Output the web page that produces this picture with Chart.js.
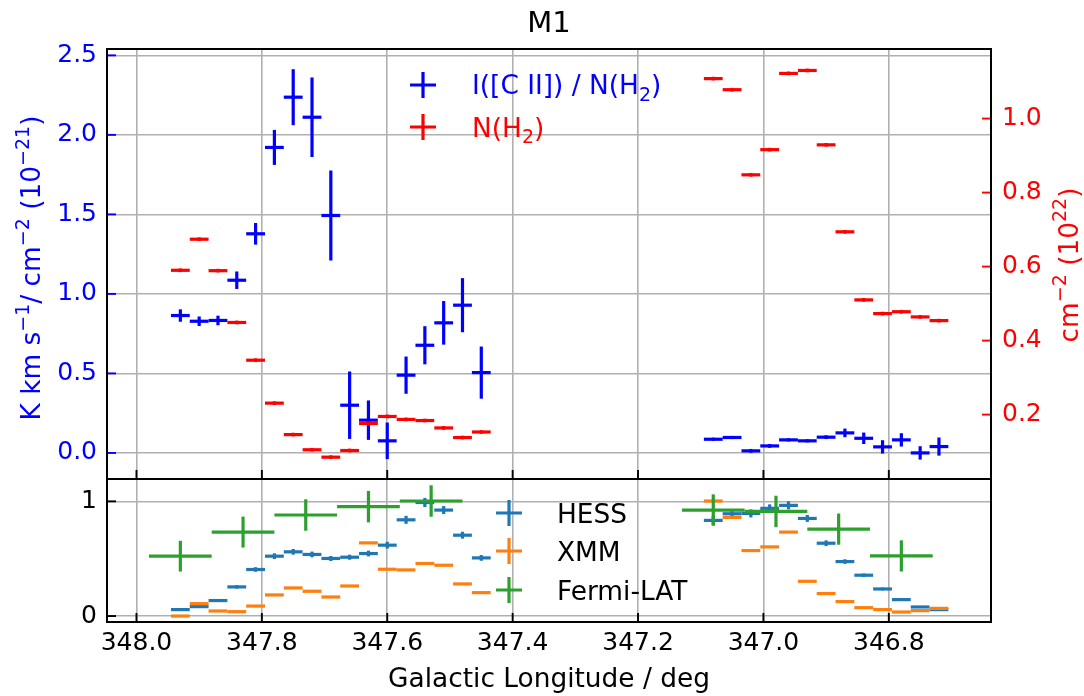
<!DOCTYPE html>
<html>
<head>
<meta charset="utf-8">
<script src="https://cdn.jsdelivr.net/npm/chart.js@4.4.0/dist/chart.umd.min.js"></script>
<style>
body{margin:0;background:#fff;}
#wrap{position:relative;width:1084px;height:696px;overflow:hidden;}
canvas{position:absolute;left:0;}
#top{top:0;}
#bot{top:470px;}
</style>
</head>
<body>
<div id="wrap">
<canvas id="top" width="1084" height="481"></canvas>
<canvas id="bot" width="1084" height="226"></canvas>
</div>
<script>
// longitude bins (deg), 0.03 deg wide
const binL = [347.93, 347.90, 347.87, 347.84, 347.81, 347.78, 347.75, 347.72, 347.69, 347.66, 347.63, 347.60, 347.57, 347.54, 347.51, 347.48, 347.45]
const binR = [347.08, 347.05, 347.02, 346.99, 346.96, 346.93, 346.90, 346.87, 346.84, 346.81, 346.78, 346.75, 346.72]
const lon = binL.concat(binR)
const binHalf = 0.015

// top panel
const ciiRatio = [0.864, 0.828, 0.833, 1.086, 1.378, 1.921, 2.237, 2.111, 1.493, 0.300, 0.206, 0.076, 0.489, 0.677, 0.818, 0.929, 0.505,
  0.086, 0.097, 0.013, 0.044, 0.082, 0.076, 0.099, 0.126, 0.092, 0.038, 0.082, 0.000, 0.040]
const ciiErr = [0.039, 0.03, 0.03, 0.055, 0.068, 0.11, 0.176, 0.25, 0.283, 0.212, 0.124, 0.115, 0.117, 0.12, 0.137, 0.17, 0.164,
  0.01, 0.01, 0.012, 0.012, 0.01, 0.01, 0.012, 0.027, 0.036, 0.042, 0.042, 0.042, 0.057]
const nH2 = [0.590, 0.674, 0.589, 0.449, 0.347, 0.231, 0.146, 0.105, 0.085, 0.103, 0.176, 0.195, 0.187, 0.184, 0.164, 0.138, 0.153,
  1.108, 1.078, 0.848, 0.916, 1.122, 1.130, 0.929, 0.694, 0.510, 0.473, 0.478, 0.464, 0.454]
const nH2Err = 0.005

// bottom panel (normalised profiles)
const hess = [0.056, 0.082, 0.135, 0.254, 0.406, 0.522, 0.560, 0.537, 0.502, 0.513, 0.545, 0.618, 0.839, 0.990, 0.924, 0.705, 0.507,
  0.834, 0.892, 0.895, 0.939, 0.965, 0.851, 0.635, 0.475, 0.356, 0.236, 0.143, 0.079, 0.056]
const hessErr = [0.01, 0.01, 0.012, 0.015, 0.02, 0.025, 0.025, 0.025, 0.022, 0.022, 0.025, 0.03, 0.035, 0.04, 0.035, 0.03, 0.025,
  0.04, 0.035, 0.035, 0.035, 0.035, 0.03, 0.025, 0.02, 0.015, 0.012, 0.01, 0.008, 0.006]
const xmm = [0.000, 0.108, 0.044, 0.038, 0.087, 0.184, 0.245, 0.216, 0.166, 0.262, 0.638, 0.408, 0.402, 0.458, 0.443, 0.280, 0.204,
  1.003, 0.860, 0.571, 0.603, 0.732, 0.303, 0.196, 0.126, 0.073, 0.056, 0.035, 0.047, 0.067]
const fermiLon = [347.93, 347.83, 347.73, 347.63, 347.53, 347.08, 346.98, 346.88, 346.78]
const fermi = [0.522, 0.732, 0.881, 0.954, 1.003, 0.924, 0.912, 0.758, 0.524]
const fermiErr = [0.134, 0.135, 0.137, 0.137, 0.137, 0.137, 0.137, 0.136, 0.136]
const fermiHalf = 0.05

const xTicks = [348.0, 347.8, 347.6, 347.4, 347.2, 347.0, 346.8]
const yTicks = [0.0, 0.5, 1.0, 1.5, 2.0, 2.5]
const yRTicks = [0.2, 0.4, 0.6, 0.8, 1.0]
const y2Ticks = [0, 1]

const FONT = "'DejaVu Sans', sans-serif"
const GRID = '#b0b0b0'
const TICK_SIZE = 25
const LABEL_SIZE = 26.4

function pts(xs, ys, xe, ye) {
  return xs.map((x, i) => ({
    x: x, y: ys[i],
    xe: Array.isArray(xe) ? xe[i] : xe,
    ye: Array.isArray(ye) ? ye[i] : ye
  }))
}

function setTicks(list) {
  return s => { s.ticks = list.map(v => ({value: v})) }
}

// fixed axis width, no extra room for the end labels
function fixWidth(w) {
  return s => { s.width = w; s.paddingTop = 0; s.paddingBottom = 0 }
}

// text with super/subscripts, drawn on the baseline at (0,0)
function richText(ctx, parts, size, align) {
  const small = (size * 0.72).toFixed(1) + 'px ' + FONT
  const fonts = {'': size + 'px ' + FONT, sup: small, sub: small}
  const shift = {'': 0, sup: -size * 0.42, sub: size * 0.26}
  let w = 0
  parts.forEach(p => { ctx.font = fonts[p[1]]; w += ctx.measureText(p[0]).width })
  let x = align == 'center' ? -w / 2 : 0
  ctx.textAlign = 'left'
  ctx.textBaseline = 'alphabetic'
  parts.forEach(p => {
    ctx.font = fonts[p[1]]
    ctx.fillText(p[0], x, shift[p[1]])
    x += ctx.measureText(p[0]).width
  })
}

// error bars drawn through the chart scales
const errorBars = {
  id: 'errorBars',
  afterDatasetsDraw(chart) {
    const ctx = chart.ctx, a = chart.chartArea
    ctx.save()
    ctx.beginPath()
    ctx.rect(a.left, a.top, a.right - a.left, a.bottom - a.top)
    ctx.clip()
    chart.data.datasets.forEach(ds => {
      const xs = chart.scales.x, ys = chart.scales[ds.yAxisID]
      ctx.strokeStyle = ds.borderColor
      ctx.lineWidth = ds.errWidth
      ctx.lineCap = 'butt'
      ds.data.forEach(p => {
        const y = ys.getPixelForValue(p.y)
        ctx.beginPath()
        ctx.moveTo(xs.getPixelForValue(p.x - p.xe), y)
        ctx.lineTo(xs.getPixelForValue(p.x + p.xe), y)
        ctx.stroke()
      })
      ds.data.forEach(p => {
        const x = xs.getPixelForValue(p.x)
        ctx.beginPath()
        ctx.moveTo(x, ys.getPixelForValue(p.y - p.ye))
        ctx.lineTo(x, ys.getPixelForValue(p.y + p.ye))
        ctx.stroke()
      })
    })
    ctx.restore()
  }
}

// axes frame, inward ticks, titles and legend
function decor(cfg) {
  return {
    id: 'decor',
    afterDraw(chart) {
      const ctx = chart.ctx, a = chart.chartArea
      ctx.save()
      cfg.ticks.forEach(t => {
        const s = chart.scales[t.id]
        ctx.strokeStyle = t.color
        ctx.lineWidth = 1.9
        s.ticks.forEach(tk => {
          const p = s.getPixelForValue(tk.value)
          ctx.beginPath()
          if (t.side == 'bottom') { ctx.moveTo(p, a.bottom); ctx.lineTo(p, a.bottom - 9) }
          if (t.side == 'left') { ctx.moveTo(a.left, p); ctx.lineTo(a.left + 9, p) }
          if (t.side == 'right') { ctx.moveTo(a.right, p); ctx.lineTo(a.right - 9, p) }
          ctx.stroke()
        })
      })
      ctx.strokeStyle = '#000'
      ctx.lineWidth = 2
      ctx.strokeRect(a.left, a.top, a.right - a.left, a.bottom - a.top)

      cfg.texts.forEach(t => {
        ctx.save()
        ctx.translate(t.x, t.y)
        ctx.rotate(t.rot || 0)
        ctx.fillStyle = t.color
        richText(ctx, t.parts, t.size, 'center')
        ctx.restore()
      })

      cfg.legend.forEach(it => {
        const ds = chart.data.datasets[it.ds]
        ctx.strokeStyle = ds.borderColor
        ctx.lineWidth = 3.2
        ctx.beginPath()
        ctx.moveTo(it.x - 13, it.y); ctx.lineTo(it.x + 13, it.y)
        ctx.moveTo(it.x, it.y - 13); ctx.lineTo(it.x, it.y + 13)
        ctx.stroke()
        ctx.save()
        ctx.translate(it.tx, it.base)
        ctx.fillStyle = it.color
        richText(ctx, it.parts, LABEL_SIZE, 'left')
        ctx.restore()
      })
      ctx.restore()
    }
  }
}

const xMin = 346.637, xMax = 348.047

function xScale(showLabels, h) {
  return {
    type: 'linear', reverse: true, min: xMin, max: xMax,
    afterBuildTicks: setTicks(xTicks),
    afterFit: s => { s.height = h },
    ticks: {display: showLabels, autoSkip: false, maxRotation: 0, color: '#000', padding: 6,
      font: {family: FONT, size: TICK_SIZE}, callback: v => v.toFixed(1)},
    grid: {color: GRID, lineWidth: 1.6, drawTicks: false},
    border: {display: false}
  }
}

new Chart(document.getElementById('top'), {
  type: 'scatter',
  data: {
    datasets: [
      {label: 'I([C II]) / N(H₂)', data: pts(lon, ciiRatio, binHalf, ciiErr), yAxisID: 'y',
        borderColor: '#0000ff', backgroundColor: '#0000ff', errWidth: 3.2},
      {label: 'N(H₂)', data: pts(lon, nH2, binHalf, nH2Err), yAxisID: 'yR',
        borderColor: '#ff0000', backgroundColor: '#ff0000', errWidth: 3.2}
    ]
  },
  options: {
    responsive: false, animation: false, devicePixelRatio: 1,
    layout: {padding: {top: 49, left: 0, right: 0, bottom: 0}},
    elements: {point: {radius: 0, hoverRadius: 0}},
    plugins: {legend: {display: false}, tooltip: {enabled: false}},
    scales: {
      x: xScale(false, 2),
      y: {
        position: 'left', min: -0.164, max: 2.54,
        afterBuildTicks: setTicks(yTicks),
        afterFit: fixWidth(107),
        ticks: {color: '#0000ff', padding: 10, font: {family: FONT, size: TICK_SIZE}, callback: v => v.toFixed(1)},
        grid: {color: GRID, lineWidth: 1.6, drawTicks: false},
        border: {display: false}
      },
      yR: {
        position: 'right', min: 0.026, max: 1.188,
        afterBuildTicks: setTicks(yRTicks),
        afterFit: fixWidth(93),
        ticks: {color: '#ff0000', padding: 11, font: {family: FONT, size: TICK_SIZE}, callback: v => v.toFixed(1)},
        grid: {display: false, drawTicks: false},
        border: {display: false}
      }
    }
  },
  plugins: [errorBars, decor({
    ticks: [{id: 'x', side: 'bottom', color: '#000'}, {id: 'y', side: 'left', color: '#0000ff'}, {id: 'yR', side: 'right', color: '#ff0000'}],
    texts: [
      {parts: [['M1', '']], x: 549, y: 32, size: 29, color: '#000'},
      {parts: [['K km s', ''], ['−1', 'sup'], ['/ cm', ''], ['−2', 'sup'], [' (10', ''], ['−21', 'sup'], [')', '']],
        x: 40, y: 268, size: LABEL_SIZE, color: '#0000ff', rot: -Math.PI / 2},
      {parts: [['cm', ''], ['−2', 'sup'], [' (10', ''], ['22', 'sup'], [')', '']],
        x: 1077.5, y: 265, size: LABEL_SIZE, color: '#ff0000', rot: -Math.PI / 2}
    ],
    legend: [
      {ds: 0, x: 423, y: 85, tx: 472, base: 94, color: '#0000ff', parts: [['I([C II]) / N(H', ''], ['2', 'sub'], [')', '']]},
      {ds: 1, x: 423, y: 127, tx: 472, base: 136.5, color: '#ff0000', parts: [['N(H', ''], ['2', 'sub'], [')', '']]}
    ]
  })]
})

new Chart(document.getElementById('bot'), {
  type: 'scatter',
  data: {
    datasets: [
      {label: 'HESS', data: pts(lon, hess, binHalf, hessErr), yAxisID: 'y',
        borderColor: '#1f77b4', backgroundColor: '#1f77b4', errWidth: 3.2},
      {label: 'XMM', data: pts(lon, xmm, binHalf, 0.004), yAxisID: 'y',
        borderColor: '#ff7f0e', backgroundColor: '#ff7f0e', errWidth: 3.2},
      {label: 'Fermi-LAT', data: pts(fermiLon, fermi, fermiHalf, fermiErr), yAxisID: 'y',
        borderColor: '#2ca02c', backgroundColor: '#2ca02c', errWidth: 3.2}
    ]
  },
  options: {
    responsive: false, animation: false, devicePixelRatio: 1,
    layout: {padding: {top: 9, left: 0, right: 93, bottom: 0}},
    elements: {point: {radius: 0, hoverRadius: 0}},
    plugins: {legend: {display: false}, tooltip: {enabled: false}},
    scales: {
      x: xScale(true, 74),
      y: {
        position: 'left', min: -0.052, max: 1.195,
        afterBuildTicks: setTicks(y2Ticks),
        afterFit: fixWidth(107),
        ticks: {color: '#000', padding: 10, font: {family: FONT, size: TICK_SIZE}, callback: v => v.toFixed(0)},
        grid: {color: GRID, lineWidth: 1.6, drawTicks: false},
        border: {display: false}
      }
    }
  },
  plugins: [errorBars, decor({
    ticks: [{id: 'x', side: 'bottom', color: '#000'}, {id: 'y', side: 'left', color: '#000'}],
    texts: [
      {parts: [['Galactic Longitude / deg', '']], x: 549, y: 217, size: LABEL_SIZE, color: '#000'}
    ],
    legend: [
      {ds: 0, x: 509, y: 43, tx: 557, base: 52.5, color: '#000', parts: [['HESS', '']]},
      {ds: 1, x: 509, y: 81, tx: 557, base: 90.5, color: '#000', parts: [['XMM', '']]},
      {ds: 2, x: 509, y: 120, tx: 557, base: 129.5, color: '#000', parts: [['Fermi-LAT', '']]}
    ]
  })]
})
</script>
</body>
</html>
